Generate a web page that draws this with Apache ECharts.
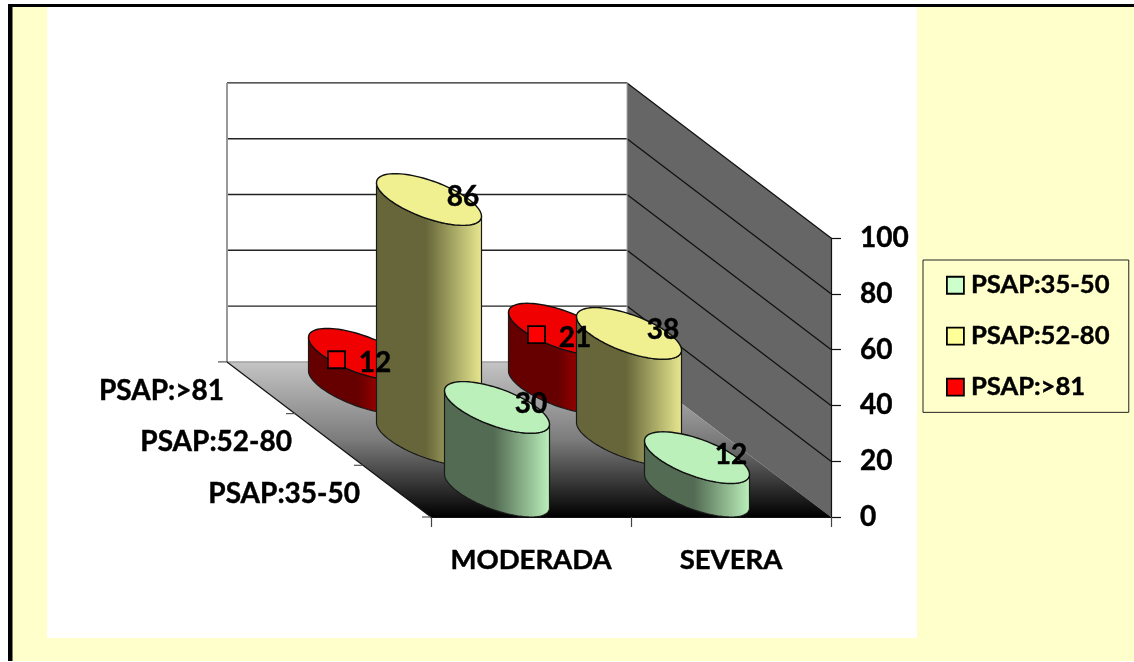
<!DOCTYPE html>
<html>
<head>
<meta charset="utf-8">
<style>
  html, body { margin: 0; padding: 0; background: #fff; }
  #chart { width: 1134px; height: 662px; }
</style>
<script src="https://cdn.jsdelivr.net/npm/echarts@6/dist/echarts.min.js"></script>
</head>
<body>
<div id="chart"></div>
<script>
// Severity groups along the floor and PSAP ranges going into the depth of the box
const categories = ['MODERADA', 'SEVERA'];
const depthLabels = ['PSAP:35-50', 'PSAP:52-80', 'PSAP:>81'];
const valueTicks = [0, 20, 40, 60, 80, 100];
const psap35to50 = [30, 12];
const psap52to80 = [86, 38];
const psapOver81 = [12, 21];

const FONT = '"Lato", "Open Sans", sans-serif';
const HEAVY = 0.45;

// Oblique projection: screen shift for one depth row
const STEP_X = -68;
const STEP_Y = -51.7;
// Cylinder footprint: half width along the category axis, and fraction of a row in depth
const RADIUS_X = 40;
const RADIUS_DEPTH = 0.5;

const rows = [
  { name: depthLabels[2], values: psapOver81, depth: 2, side: ['#660000', '#660000', '#ee0000'], top: '#f00000', legend: '#ff0000', keyed: true },
  { name: depthLabels[1], values: psap52to80, depth: 1, side: ['#66663a', '#66663a', '#e8e890'], top: '#f0f090', legend: '#ffff99', keyed: false },
  { name: depthLabels[0], values: psap35to50, depth: 0, side: ['#536b53', '#536b53', '#bbf0bb'], top: '#bbf0bb', legend: '#ccffcc', keyed: false }
];

// Fractional category positions are resolved through the band width of the axis
function project(api, cat, value, depth) {
  const p = api.coord([0, value]);
  const band = api.size([1, 0])[0];
  return [p[0] + cat * band + depth * STEP_X, p[1] + depth * STEP_Y];
}

function ellipsePoint(c, t) {
  return [
    c[0] + RADIUS_X * Math.cos(t) + RADIUS_DEPTH * STEP_X * Math.sin(t),
    c[1] + RADIUS_DEPTH * STEP_Y * Math.sin(t)
  ];
}

// One cylinder: visible side surface plus the elliptical lid
function renderCylinder(row) {
  return function (params, api) {
    const cat = api.value(0);
    const d = row.depth + 0.5;
    const base = project(api, cat, 0, d);
    const lid = project(api, cat, api.value(1), d);
    const tExt = Math.atan2(RADIUS_DEPTH * STEP_X, RADIUS_X);
    const N = 48;
    const sidePts = [];
    for (let i = 0; i <= N; i++) sidePts.push(ellipsePoint(base, tExt - Math.PI * i / N));
    for (let i = N; i >= 0; i--) sidePts.push(ellipsePoint(lid, tExt - Math.PI * i / N));
    const lidPts = [];
    for (let i = 0; i < 96; i++) lidPts.push(ellipsePoint(lid, 2 * Math.PI * i / 96));
    return {
      type: 'group',
      children: [
        {
          type: 'polygon',
          shape: { points: sidePts },
          style: {
            fill: {
              type: 'linear', x: 0, y: 0, x2: 1, y2: 0,
              colorStops: [
                { offset: 0, color: row.side[0] },
                { offset: 0.47, color: row.side[1] },
                { offset: 1, color: row.side[2] }
              ]
            },
            stroke: '#1a1a1a', lineWidth: 1.2
          }
        },
        {
          type: 'polygon',
          shape: { points: lidPts },
          style: { fill: row.top, stroke: '#111', lineWidth: 1.4 }
        }
      ]
    };
  };
}

// Value label above each lid; the back row also carries its legend key
function renderLabel(row) {
  return function (params, api) {
    const lid = project(api, api.value(0), api.value(1), row.depth + 0.5);
    const children = [];
    const labelX = row.keyed ? lid[0] + 14 : lid[0] + 34;
    const labelY = row.keyed ? lid[1] + 9 : lid[1] - 3;
    children.push({
      type: 'text',
      style: {
        x: labelX, y: labelY, text: String(api.value(1)),
        font: 'bold 28px ' + FONT, fill: '#000', align: 'center', verticalAlign: 'middle',
        stroke: '#000', lineWidth: HEAVY
      }
    });
    if (row.keyed) {
      children.push({
        type: 'rect',
        shape: { x: lid[0] - 33, y: lid[1] - 3, width: 17, height: 17 },
        style: { fill: '#ff0000', stroke: '#000', lineWidth: 1.8 }
      });
    }
    return { type: 'group', children: children };
  };
}

// Box of the chart: back wall, side wall, graded floor, grid lines and depth axis
function renderFrame(params, api) {
  const L = -0.5, R = 1.5, D = depthLabels.length;
  const children = [];
  const poly = (pts, style) => children.push({ type: 'polygon', shape: { points: pts }, style: style });
  const seg = (a, b, stroke, w) => children.push({
    type: 'line', shape: { x1: a[0], y1: a[1], x2: b[0], y2: b[1] },
    style: { stroke: stroke, lineWidth: w }
  });

  const top = valueTicks[valueTicks.length - 1];
  poly([project(api, L, 0, D), project(api, R, 0, D), project(api, R, top, D), project(api, L, top, D)], { fill: '#fff' });
  poly([project(api, R, 0, 0), project(api, R, 0, D), project(api, R, top, D), project(api, R, top, 0)], { fill: '#666666' });
  poly([project(api, L, 0, 0), project(api, R, 0, 0), project(api, R, 0, D), project(api, L, 0, D)], {
    fill: {
      type: 'linear', x: 0, y: 0, x2: 0, y2: 1,
      colorStops: [
        { offset: 0, color: '#c4c4c4' },
        { offset: 0.5, color: '#7c7c7c' },
        { offset: 1, color: '#000' }
      ]
    }
  });

  valueTicks.forEach(function (v) {
    if (v > 0) {
      seg(project(api, L, v, D), project(api, R, v, D), '#222', 1.4);
      seg(project(api, R, v, D), project(api, R, v, 0), '#111', 1.3);
    }
  });
  seg(project(api, L, 0, D), project(api, L, top, D), '#999', 2);
  seg(project(api, R, 0, D), project(api, R, top, D), '#aaa', 1);
  seg(project(api, L, 0, D), project(api, R, 0, D), '#888', 1);
  seg(project(api, L, 0, 0), project(api, L, 0, D), '#111', 1.2);

  for (let d = 0; d <= D; d++) {
    const p = project(api, L, 0, d);
    seg(p, [p[0] - 9, p[1]], '#555', 1.2);
  }
  depthLabels.forEach(function (name, i) {
    const p = project(api, L, 0, i + 0.5);
    children.push({
      type: 'text',
      style: {
        x: p[0] - 37, y: p[1] + 3, text: name,
        font: 'bold 28px ' + FONT, fill: '#000', align: 'right', verticalAlign: 'middle',
        stroke: '#000', lineWidth: HEAVY
      }
    });
  });
  return { type: 'group', children: children };
}

const series = [{
  type: 'custom', name: 'frame', data: [[0, 0]], renderItem: renderFrame,
  silent: true, clip: false, z: 1, encode: { x: 0, y: 1 }
}];
rows.forEach(function (row, i) {
  series.push({
    type: 'custom', name: row.name,
    data: row.values.map((v, c) => [c, v]),
    renderItem: renderCylinder(row),
    itemStyle: { color: row.legend },
    silent: true, clip: false, z: 2 + i, encode: { x: 0, y: 1 }
  });
});
rows.forEach(function (row) {
  series.push({
    type: 'custom', name: row.name + ' labels',
    data: row.values.map((v, c) => [c, v]),
    renderItem: renderLabel(row),
    silent: true, clip: false, z: 8, encode: { x: 0, y: 1 }
  });
});

const chart = echarts.init(document.getElementById('chart'), null, { renderer: 'canvas' });
chart.setOption({
  animation: false,
  backgroundColor: 'transparent',
  graphic: [
    { type: 'rect', z: -10, shape: { x: 8, y: 4, width: 1126, height: 657 }, style: { fill: '#000' } },
    { type: 'rect', z: -9, shape: { x: 12.5, y: 7, width: 1122, height: 654 }, style: { fill: '#ffffcc' } },
    { type: 'rect', z: -8, shape: { x: 47, y: 7, width: 870, height: 631 }, style: { fill: '#fff' } }
  ],
  grid: { left: 431, right: 303, top: 238, bottom: 145, containLabel: false },
  xAxis: {
    type: 'category',
    data: categories,
    z: 10,
    axisLine: { lineStyle: { color: '#111', width: 1.2 } },
    axisTick: { show: true, length: 10, lineStyle: { color: '#444', width: 1.2 } },
    axisLabel: {
      interval: 0, hideOverlap: false,
      margin: 29, color: '#000', fontFamily: FONT, fontWeight: 'bold', fontSize: 27.5,
      textBorderColor: '#000', textBorderWidth: HEAVY
    },
    splitLine: { show: false }
  },
  yAxis: {
    type: 'value',
    position: 'right',
    min: 0, max: 100, interval: 20,
    z: 10,
    axisLine: { show: true, lineStyle: { color: '#111', width: 1.2 } },
    axisTick: { show: true, length: 10, lineStyle: { color: '#111', width: 1.2 } },
    axisLabel: {
      margin: 29, color: '#000', fontFamily: FONT, fontWeight: 'bold', fontSize: 28,
      padding: [3, 0, 0, 0],
      textBorderColor: '#000', textBorderWidth: HEAVY
    },
    splitLine: { show: false }
  },
  legend: {
    orient: 'vertical',
    left: 923, top: 260,
    padding: [12, 19, 12, 23],
    itemGap: 24.5,
    itemWidth: 17, itemHeight: 17,
    icon: 'rect',
    selectedMode: false,
    borderColor: '#222', borderWidth: 1,
    textStyle: {
      color: '#000', fontFamily: FONT, fontWeight: 'bold', fontSize: 25.6,
      padding: [2, 0, 0, 2],
      textBorderColor: '#000', textBorderWidth: HEAVY
    },
    data: [2, 1, 0].map(function (i) {
      return {
        name: rows[i].name,
        itemStyle: { color: rows[i].legend, borderColor: '#000', borderWidth: 1.8 }
      };
    })
  },
  tooltip: { show: false },
  series: series
});
</script>
</body>
</html>
